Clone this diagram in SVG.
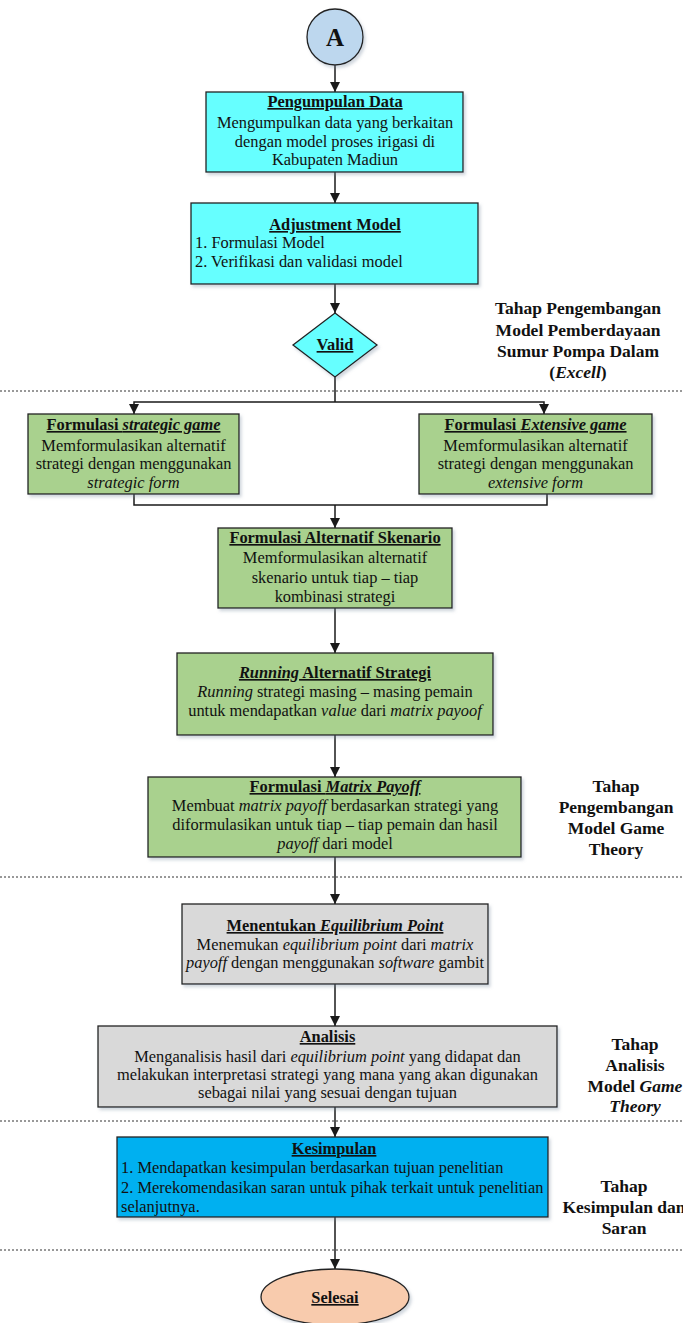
<svg xmlns="http://www.w3.org/2000/svg" width="683" height="1323" viewBox="0 0 683 1323">
<defs>
<style>
.t{font-family:"Liberation Serif","Times New Roman",serif;font-size:16.4px;fill:#111}
.c{text-anchor:middle}
.b{font-weight:bold}
.u{text-decoration:underline}
.i{font-style:italic}
.lbl{font-family:"Liberation Serif","Times New Roman",serif;font-size:17.5px;font-weight:bold;text-anchor:middle;fill:#111}
.box{stroke:#222;stroke-width:1.3;filter:url(#sh)}
.cy{fill:#66FFFF}
.gr{fill:#A9D18E}
.gy{fill:#D9D9D9}
.bl{fill:#00B0F0}
.con{fill:none;stroke:#1a1a1a;stroke-width:1.5}
.arr{marker-end:url(#ah)}
.dot{stroke:#333;stroke-width:1;stroke-dasharray:2,2}
</style>
<marker id="ah" markerUnits="userSpaceOnUse" markerWidth="12" markerHeight="12" refX="10" refY="5" orient="auto">
<path d="M0,0 L10,5 L0,10 z" fill="#1a1a1a"/>
</marker>
<filter id="sh" x="-5%" y="-5%" width="115%" height="120%">
<feDropShadow dx="2" dy="2.5" stdDeviation="1.5" flood-color="#7a8aa0" flood-opacity="0.35"/>
</filter>
</defs>
<rect width="683" height="1323" fill="#fff"/>

<g id="separators">
<line class="dot" x1="0" y1="391" x2="683" y2="391"/>
<line class="dot" x1="0" y1="877" x2="683" y2="877"/>
<line class="dot" x1="0" y1="1121" x2="683" y2="1121"/>
<line class="dot" x1="0" y1="1250" x2="683" y2="1250"/>
</g>

<g id="connectors">
<line class="con arr" x1="335" y1="65" x2="335" y2="92"/>
<line class="con arr" x1="335" y1="172" x2="335" y2="203"/>
<line class="con arr" x1="335" y1="284" x2="335" y2="313"/>
<polyline class="con" points="335,377 335,402"/>
<polyline class="con arr" points="335,402 134,402 134,414"/>
<polyline class="con arr" points="335,402 544,402 544,414"/>
<polyline class="con" points="134,494 134,505 547,505 547,494"/>
<line class="con arr" x1="335" y1="505" x2="335" y2="528"/>
<line class="con arr" x1="335" y1="608" x2="335" y2="653"/>
<line class="con arr" x1="335" y1="735" x2="335" y2="777"/>
<line class="con arr" x1="335" y1="857" x2="335" y2="904"/>
<line class="con arr" x1="335" y1="984" x2="335" y2="1026"/>
<line class="con arr" x1="335" y1="1107" x2="335" y2="1137"/>
<line class="con arr" x1="335" y1="1217" x2="335" y2="1269"/>
</g>

<g id="nodeA">
<circle cx="335" cy="37" r="28" fill="#BDD7EE" stroke="#222" stroke-width="1.3" filter="url(#sh)"/>
<text class="t b c" x="335" y="46" style="font-size:25px">A</text>
</g>

<g id="pengumpulan">
<rect class="box cy" x="206" y="92" width="257" height="80"/>
<text class="t c" x="335" y="107"><tspan class="b u">Pengumpulan Data</tspan></text>
<text class="t c" x="335" y="128">Mengumpulkan data yang berkaitan</text>
<text class="t c" x="335" y="147">dengan model proses irigasi di</text>
<text class="t c" x="335" y="165">Kabupaten Madiun</text>
</g>

<g id="adjustment">
<rect class="box cy" x="191" y="203" width="287" height="81"/>
<text class="t c" x="335" y="230"><tspan class="b u">Adjustment Model</tspan></text>
<text class="t" x="195" y="248">1. Formulasi Model</text>
<text class="t" x="195" y="267">2. Verifikasi dan validasi model</text>
</g>

<g id="valid">
<polygon class="box cy" points="335,313 377,345 335,377 293,345"/>
<text class="t c b u" x="335" y="350">Valid</text>
</g>

<g id="strategic">
<rect class="box gr" x="28" y="414" width="211" height="80"/>
<text class="t c b u" x="133.5" y="430">Formulasi <tspan class="i">strategic game</tspan></text>
<text class="t c" x="133.5" y="451">Memformulasikan alternatif</text>
<text class="t c" x="133.5" y="469">strategi dengan menggunakan</text>
<text class="t c i" x="133.5" y="488">strategic form</text>
</g>

<g id="extensive">
<rect class="box gr" x="419" y="414" width="233" height="80"/>
<text class="t c b u" x="535.5" y="430">Formulasi <tspan class="i">Extensive game</tspan></text>
<text class="t c" x="535.5" y="451">Memformulasikan alternatif</text>
<text class="t c" x="535.5" y="469">strategi dengan menggunakan</text>
<text class="t c i" x="535.5" y="488">extensive form</text>
</g>

<g id="skenario">
<rect class="box gr" x="218" y="528" width="234" height="80"/>
<text class="t c b u" x="335" y="543">Formulasi Alternatif Skenario</text>
<text class="t c" x="335" y="563">Memformulasikan alternatif</text>
<text class="t c" x="335" y="583">skenario untuk tiap – tiap</text>
<text class="t c" x="335" y="602">kombinasi strategi</text>
</g>

<g id="running">
<rect class="box gr" x="177" y="653" width="316" height="82"/>
<text class="t c b u" x="335" y="678"><tspan class="i">Running</tspan> Alternatif Strategi</text>
<text class="t c" x="335" y="697"><tspan class="i">Running</tspan> strategi masing – masing pemain</text>
<text class="t c" x="335" y="716">untuk mendapatkan <tspan class="i">value</tspan> dari <tspan class="i">matrix payoof</tspan></text>
</g>

<g id="matrix">
<rect class="box gr" x="148" y="777" width="373" height="80"/>
<text class="t c b u" x="335" y="792">Formulasi <tspan class="i">Matrix Payoff</tspan></text>
<text class="t c" x="335" y="811">Membuat <tspan class="i">matrix payoff</tspan>  berdasarkan strategi yang</text>
<text class="t c" x="335" y="830">diformulasikan untuk tiap – tiap pemain dan hasil</text>
<text class="t c" x="335" y="849"><tspan class="i">payoff</tspan> dari model</text>
</g>

<g id="equilibrium">
<rect class="box gy" x="182" y="904" width="306" height="80"/>
<text class="t c b u" x="335" y="931">Menentukan <tspan class="i">Equilibrium Point</tspan></text>
<text class="t c" x="335" y="950">Menemukan <tspan class="i">equilibrium point</tspan> dari <tspan class="i">matrix</tspan></text>
<text class="t c" x="335" y="968"><tspan class="i">payoff</tspan> dengan menggunakan <tspan class="i">software</tspan> gambit</text>
</g>

<g id="analisis">
<rect class="box gy" x="98" y="1026" width="459" height="81"/>
<text class="t c b u" x="327.5" y="1042">Analisis</text>
<text class="t c" x="327.5" y="1062">Menganalisis hasil dari <tspan class="i">equilibrium point</tspan> yang didapat dan</text>
<text class="t c" x="327.5" y="1080">melakukan interpretasi strategi yang mana yang akan digunakan</text>
<text class="t c" x="327.5" y="1098">sebagai nilai yang sesuai dengan tujuan</text>
</g>

<g id="kesimpulan">
<rect class="box bl" x="117" y="1137" width="431" height="80"/>
<text class="t c b u" x="334" y="1154">Kesimpulan</text>
<text class="t" x="121" y="1173">1. Mendapatkan kesimpulan berdasarkan tujuan penelitian</text>
<text class="t" x="121" y="1193">2. Merekomendasikan saran untuk pihak terkait untuk penelitian</text>
<text class="t" x="121" y="1212">selanjutnya.</text>
</g>

<g id="selesai">
<ellipse cx="335" cy="1297" rx="74" ry="28" fill="#F8CBAD" stroke="#222" stroke-width="1.3" filter="url(#sh)"/>
<text class="t c b u" x="335" y="1303">Selesai</text>
</g>

<g id="labels">
<text class="lbl" x="578" y="314">Tahap Pengembangan</text>
<text class="lbl" x="578" y="336">Model Pemberdayaan</text>
<text class="lbl" x="578" y="357">Sumur Pompa Dalam</text>
<text class="lbl" x="578" y="378">(<tspan class="i">Excell</tspan>)</text>

<text class="lbl" x="616" y="792">Tahap</text>
<text class="lbl" x="616" y="813">Pengembangan</text>
<text class="lbl" x="616" y="834">Model Game</text>
<text class="lbl" x="616" y="855">Theory</text>

<text class="lbl" x="635" y="1050">Tahap</text>
<text class="lbl" x="635" y="1071">Analisis</text>
<text class="lbl" x="635" y="1092">Model <tspan class="i">Game</tspan></text>
<text class="lbl i" x="635" y="1112">Theory</text>

<text class="lbl" x="624" y="1192">Tahap</text>
<text class="lbl" x="624" y="1213">Kesimpulan dan</text>
<text class="lbl" x="624" y="1234">Saran</text>
</g>
</svg>
